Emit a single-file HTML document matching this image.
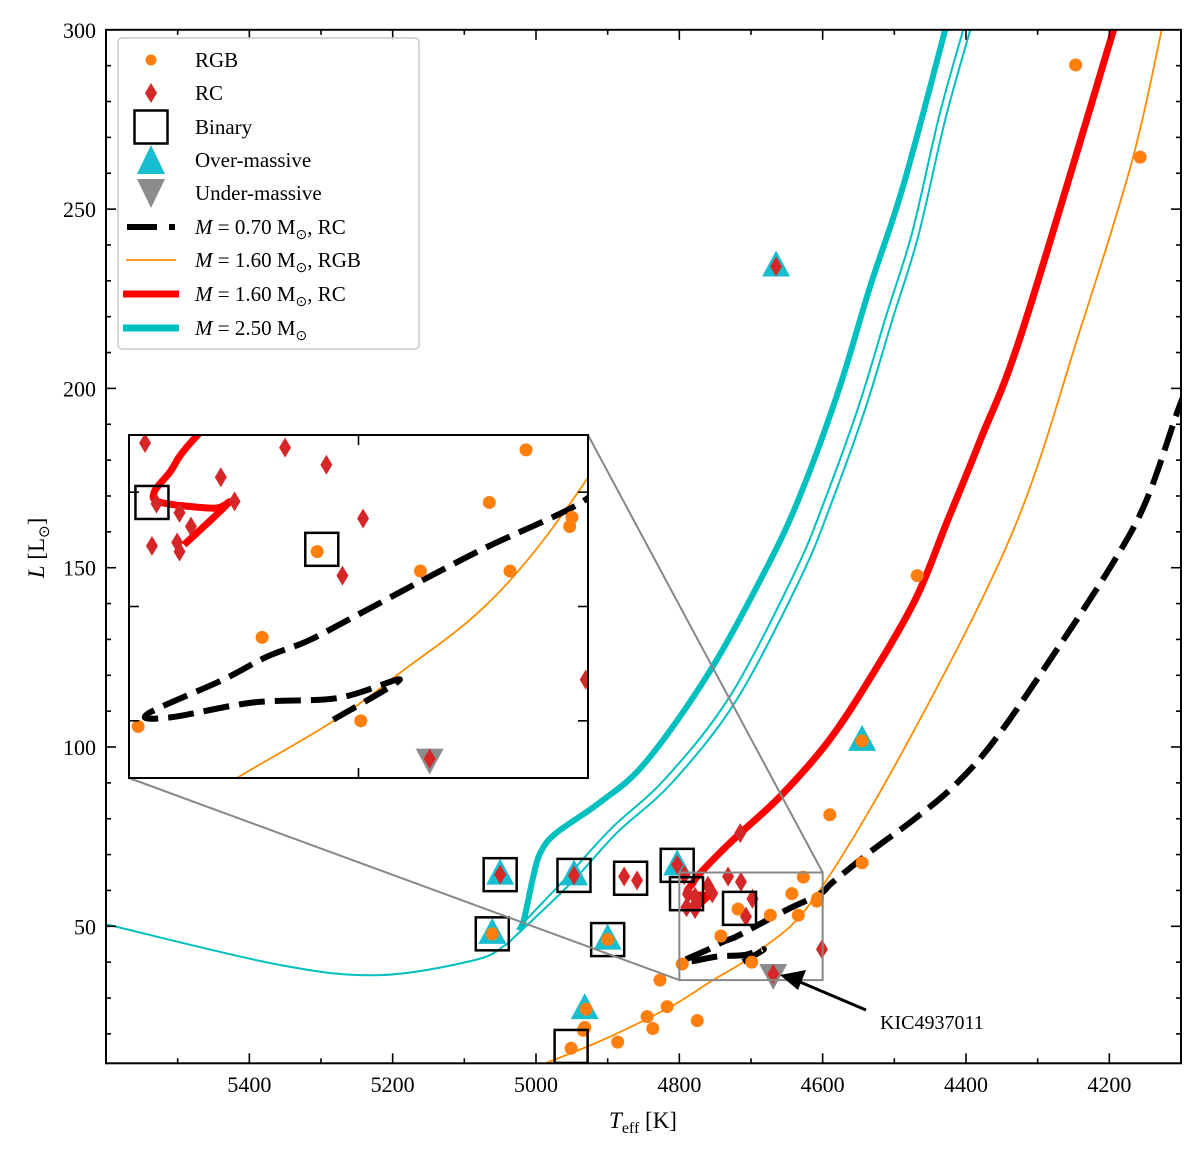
<!DOCTYPE html>
<html><head><meta charset="utf-8"><style>
body{margin:0;background:#fff}
svg{display:block;font-family:"Liberation Serif",serif}
</style></head><body>
<svg id="chart" width="1200" height="1153" viewBox="0 0 1200 1153" xmlns="http://www.w3.org/2000/svg">
<defs>
<clipPath id="clipMain"><rect x="106" y="29.8" width="1075" height="1033.5"/></clipPath>
<clipPath id="clipInset"><rect x="129" y="435" width="459" height="343"/></clipPath>
</defs>
<g id="mainLayer" clip-path="url(#clipMain)"></g>
<g id="axesLayer"></g>
<g id="insetBg"></g>
<g id="insetLayer" clip-path="url(#clipInset)"></g>
<g id="insetAxes"></g>
<g id="legendLayer"></g>
</svg>
<script>
// ---- data ----
const rgbT=[4247,4157,4468,4545,4590,4545,5061,4900,4627,4643,4608,4607,4634,4673,4718,4742,4796,4699,4827,4930,4932,4934,4817,4845,4837,4775,4886,4951];
const rgbL=[290.2,264.5,147.8,101.7,81.1,67.7,47.9,46.3,63.7,59.1,57.0,57.8,53.1,53.1,54.8,47.3,39.5,40.0,35.0,26.9,21.8,21.0,27.6,24.8,21.5,23.7,17.7,16.0];
const rcT=[4665,5050,4947,4877,4859,4803,4715,4793,4732,4714,4760,4754,4788,4778,4773,4698,4790,4779,4778,4707,4601,4669];
const rcL=[234,64.4,64.2,63.9,62.8,67.2,76,64.3,63.9,62.4,61.3,59.2,59.0,58.2,57.0,57.7,55.3,55.6,54.8,52.7,43.6,36.7];
const overT=[5050,4947,4803,5061,4900,4932,4665,4545];
const overL=[64.4,64.2,67.0,47.9,46.3,26.9,234,101.7];
const underT=[4669];
const underL=[36.7];
const binT=[5050,4947,4868,4803,4790,4716,5061,4900,4951];
const binL=[64.4,64.2,63.4,67.0,59.1,55.0,47.9,46.3,16.5];
// tracks
const m07T=[4711,4682,4709,4746,4782,4792,4760,4740,4722,4702,4673,4644,4603,4586,4530,4474,4418,4362,4283,4195,4148,4104,4080];
const m07L=[40.1,43.6,42.0,41.6,40.3,40.6,43.5,45.6,47.0,49.1,52.2,55.2,59.1,62.3,71.3,79.6,88.9,101.4,124.2,151.3,168.9,194.0,206];
const rgb16T=[4987,4907,4813,4757,4687,4611,4482,4334,4241,4168,4127];
const rgb16L=[11.8,18.3,27.5,34.5,43.4,58.1,101.1,160.4,216.2,263.7,300];
const rc16T=[4776,4757,4763,4786,4789,4782,4771,4725,4660,4594,4538,4471,4427,4380,4321,4194];
const rc16L=[55.4,59.0,58.6,59.1,60.0,61.8,64.8,74.1,86.1,101.1,117.8,141.0,162.5,185.6,216.3,300];
const m25T=[5024,5017,5004,4994,4972,4912,4848,4759,4682,4634,4579,4534,4488,4429];
const m25L=[48.9,51.7,63.7,70.5,76.0,84.4,95.5,120.6,148.5,168.9,198.7,228.3,256.2,300];
const m25aT=[5600,5357,5218,5085,5043,5027,4950,4887,4810,4720,4630,4586,4541,4503,4467,4429,4394];
const m25aL=[50.6,39.2,36.4,40.6,44.8,47.6,62.3,76.1,90.1,113.2,147.5,169,194,219,242.2,274.9,300];
const m25bT=[5025,4958,4895,4818,4728,4638,4594,4549,4511,4475,4437,4401];
const m25bL=[49.5,63.5,77.3,91.5,114.6,149,170.5,195.5,220.5,243.6,276.3,302];
const xTicks=[5400,5200,5000,4800,4600,4400,4200];
const yTicks=[50,100,150,200,250,300];

const NS="http://www.w3.org/2000/svg";
function mk(tag,attrs,parent){const e=document.createElementNS(NS,tag);for(const k in attrs)e.setAttribute(k,attrs[k]);parent.appendChild(e);return e;}

const mainAx={x0:106,x1:1181,T0:5600,T1:4100,y0:1063.3,y1:29.8,L0:11.8,L1:300};
const insetAx={x0:129,x1:588,T0:4800,T1:4600,y0:778,y1:435,L0:35,L1:65};
function sx(ax,T){return ax.x0+(ax.T0-T)/(ax.T0-ax.T1)*(ax.x1-ax.x0);}
function sy(ax,L){return ax.y0-(L-ax.L0)/(ax.L1-ax.L0)*(ax.y0-ax.y1);}

function smoothPath(P){
  let d="M"+P[0][0].toFixed(1)+" "+P[0][1].toFixed(1);
  for(let i=0;i<P.length-1;i++){
    const p0=P[i-1]||P[i],p1=P[i],p2=P[i+1],p3=P[i+2]||P[i+1];
    const c1x=p1[0]+(p2[0]-p0[0])/6,c1y=p1[1]+(p2[1]-p0[1])/6;
    const c2x=p2[0]-(p3[0]-p1[0])/6,c2y=p2[1]-(p3[1]-p1[1])/6;
    d+="C"+c1x.toFixed(1)+" "+c1y.toFixed(1)+" "+c2x.toFixed(1)+" "+c2y.toFixed(1)+" "+p2[0].toFixed(1)+" "+p2[1].toFixed(1);
  }
  return d;
}
function drawLine(g,ax,T,L,color,w,dash,name){
  const P=T.map((t,i)=>[sx(ax,t),sy(ax,L[i])]);
  const p=mk("path",{d:smoothPath(P),fill:"none",stroke:color,"stroke-width":w,"stroke-linejoin":"round"},g);
  if(dash)p.setAttribute("stroke-dasharray",dash);
  
  
}
function drawAll(g,ax){
  drawLine(g,ax,m25aT,m25aL,"#00bfbf",2,null,"track-2.50-thin-a");
  drawLine(g,ax,m25bT,m25bL,"#00bfbf",2,null,"track-2.50-thin-b");
  drawLine(g,ax,m25T,m25L,"#00bfbf",6,null,"track-2.50-thick");
  drawLine(g,ax,rgb16T,rgb16L,"#ff8c00",1.8,null,"track-1.60-rgb");
  drawLine(g,ax,rc16T,rc16L,"#ff0000",7,null,"track-1.60-rc");
  drawLine(g,ax,m07T,m07L,"#000",6,"26 10","track-0.70-rc");
  for(let i=0;i<overT.length;i++){
    const x=sx(ax,overT[i]),y=sy(ax,overL[i]);
    const t=mk("polygon",{points:`${x},${y-16} ${x-14},${y+10} ${x+14},${y+10}`,fill:"#17becf"},g);
    
    
  }
  for(let i=0;i<underT.length;i++){
    const x=sx(ax,underT[i]),y=sy(ax,underL[i]);
    const t=mk("polygon",{points:`${x},${y+16} ${x-14},${y-10} ${x+14},${y-10}`,fill:"#8c8c8c"},g);
    
    
  }
  for(let i=0;i<rgbT.length;i++){
    const c=mk("circle",{cx:sx(ax,rgbT[i]),cy:sy(ax,rgbL[i]),r:6.5,fill:"#ff7f0e"},g);
    
    
  }
  for(let i=0;i<rcT.length;i++){
    const x=sx(ax,rcT[i]),y=sy(ax,rcL[i]);
    const p=mk("polygon",{points:`${x},${y-10} ${x+6},${y} ${x},${y+10} ${x-6},${y}`,fill:"#d62728"},g);
    
    
  }
  for(let i=0;i<binT.length;i++){
    const x=sx(ax,binT[i]),y=sy(ax,binL[i]);
    const r=mk("rect",{x:x-16.5,y:y-16.5,width:33,height:33,fill:"none",stroke:"#000","stroke-width":2.5},g);
    
    
  }
}
const mainG=document.getElementById("mainLayer");
drawAll(mainG,mainAx);

// zoom rectangle and connectors
const axG=document.getElementById("axesLayer");
const zr=mk("rect",{x:sx(mainAx,4800),y:sy(mainAx,65),width:sx(mainAx,4600)-sx(mainAx,4800),height:sy(mainAx,35)-sy(mainAx,65),fill:"none",stroke:"#888","stroke-width":2},axG);


const c1=mk("line",{x1:588,y1:435,x2:sx(mainAx,4600),y2:sy(mainAx,65),stroke:"#888","stroke-width":2},axG);


const c2=mk("line",{x1:129,y1:778,x2:sx(mainAx,4800),y2:sy(mainAx,35),stroke:"#888","stroke-width":2},axG);



// annotation
const ar=mk("line",{x1:866,y1:1010,x2:800,y2:982,stroke:"#000","stroke-width":3},axG);


const ah=mk("polygon",{points:"780,975 806,970 798,990",fill:"#000"},axG);


const at=mk("text",{x:880,y:1029,"font-size":20,fill:"#000"},axG);
at.textContent="KIC4937011";



// main axes frame & ticks
const fr=mk("rect",{x:106,y:29.8,width:1075,height:1033.5,fill:"none",stroke:"#000","stroke-width":2},axG);


for(let T=5500;T>=4100;T-=100){
  const x=sx(mainAx,T);const maj=(T%200===0);const len=maj?10:5;
  const a=mk("line",{x1:x,y1:1063.3,x2:x,y2:1063.3-len,stroke:"#000","stroke-width":1.6},axG);
  
  
  const b=mk("line",{x1:x,y1:29.8,x2:x,y2:29.8+len,stroke:"#000","stroke-width":1.6},axG);
  
  
}
for(let L=20;L<=300;L+=10){
  const y=sy(mainAx,L);const len=(L%50===0)?10:5;
  const a=mk("line",{x1:106,y1:y,x2:106+len,y2:y,stroke:"#000","stroke-width":1.6},axG);
  
  
  const b=mk("line",{x1:1181,y1:y,x2:1181-len,y2:y,stroke:"#000","stroke-width":1.6},axG);
  
  
}
xTicks.forEach(T=>{
  const t=mk("text",{x:sx(mainAx,T),y:1092,"font-size":22,"text-anchor":"middle"},axG);
  t.textContent=T;
  
  
});
yTicks.forEach(L=>{
  const t=mk("text",{x:96,y:sy(mainAx,L)+8,"font-size":22,"text-anchor":"end"},axG);
  t.textContent=L;
  
  
});
const xl=mk("text",{x:643,y:1128,"font-size":23,"text-anchor":"middle"},axG);
xl.innerHTML='<tspan font-style="italic">T</tspan><tspan font-size="16" dy="5">eff</tspan><tspan dy="-5"> [K]</tspan>';


const yl=mk("text",{x:0,y:0,"font-size":23,"text-anchor":"middle",transform:"translate(44,548) rotate(-90)"},axG);
yl.innerHTML='<tspan font-style="italic">L</tspan> [L<tspan font-size="15" dy="5">⊙</tspan><tspan dy="-5">]</tspan>';



// inset
const ib=mk("rect",{x:129,y:435,width:459,height:343,fill:"#fff"},document.getElementById("insetBg"));


drawAll(document.getElementById("insetLayer"),insetAx);
const iax=document.getElementById("insetAxes");
const ifr=mk("rect",{x:129,y:435,width:459,height:343,fill:"none",stroke:"#000","stroke-width":2},iax);


[40,50,60].forEach(L=>{const y=sy(insetAx,L);
  const a=mk("line",{x1:129,y1:y,x2:139,y2:y,stroke:"#000","stroke-width":1.6},iax);
  
  
  const b=mk("line",{x1:588,y1:y,x2:578,y2:y,stroke:"#000","stroke-width":1.6},iax);
  
  
});
{const x=sx(insetAx,4700);
  const a=mk("line",{x1:x,y1:778,x2:x,y2:768,stroke:"#000","stroke-width":1.6},iax);
  
  
  const b=mk("line",{x1:x,y1:435,x2:x,y2:445,stroke:"#000","stroke-width":1.6},iax);
  
  
}

// legend
const lg=document.getElementById("legendLayer");
const lb=mk("rect",{x:118,y:38,width:301,height:311,rx:4,fill:"#fff","fill-opacity":0.85,stroke:"#ccc","stroke-width":1.5},lg);


const ly=[60,93,127,160,193,227,260,294,328];
const labels=['RGB','RC','Binary','Over-massive','Under-massive',
 '<tspan font-style="italic">M</tspan> = 0.70 M<tspan font-size="14" dy="5">⊙</tspan><tspan dy="-5">, RC</tspan>',
 '<tspan font-style="italic">M</tspan> = 1.60 M<tspan font-size="14" dy="5">⊙</tspan><tspan dy="-5">, RGB</tspan>',
 '<tspan font-style="italic">M</tspan> = 1.60 M<tspan font-size="14" dy="5">⊙</tspan><tspan dy="-5">, RC</tspan>',
 '<tspan font-style="italic">M</tspan> = 2.50 M<tspan font-size="14" dy="5">⊙</tspan>'];
const names=['legend-rgb','legend-rc','legend-binary','legend-over-massive','legend-under-massive','legend-m070-rc','legend-m160-rgb','legend-m160-rc','legend-m250'];
labels.forEach((s,i)=>{
  const t=mk("text",{x:195,y:ly[i]+7,"font-size":21},lg);
  t.innerHTML=s;
  
  
});
const cx=151;
mk("circle",{cx:cx,cy:60,r:5.5,fill:"#ff7f0e"},lg);
mk("polygon",{points:`${cx},${93-10} ${cx+6},93 ${cx},${93+10} ${cx-6},93`,fill:"#d62728"},lg);
mk("rect",{x:cx-16.5,y:127-16.5,width:33,height:33,fill:"none",stroke:"#000","stroke-width":2.5},lg);
mk("polygon",{points:`${cx},${160-15} ${cx-14},${160+14} ${cx+14},${160+14}`,fill:"#17becf"},lg);
mk("polygon",{points:`${cx},${193+15} ${cx-14},${193-14} ${cx+14},${193-14}`,fill:"#8c8c8c"},lg);
mk("line",{x1:127,y1:227,x2:157,y2:227,stroke:"#000","stroke-width":6},lg);
mk("line",{x1:169,y1:227,x2:175,y2:227,stroke:"#000","stroke-width":6},lg);
mk("line",{x1:126,y1:260,x2:176,y2:260,stroke:"#ff8c00","stroke-width":1.8},lg);
mk("line",{x1:123,y1:294,x2:179,y2:294,stroke:"#ff0000","stroke-width":7},lg);
mk("line",{x1:123,y1:328,x2:179,y2:328,stroke:"#00bfbf","stroke-width":7},lg);
</script>
</body></html>
